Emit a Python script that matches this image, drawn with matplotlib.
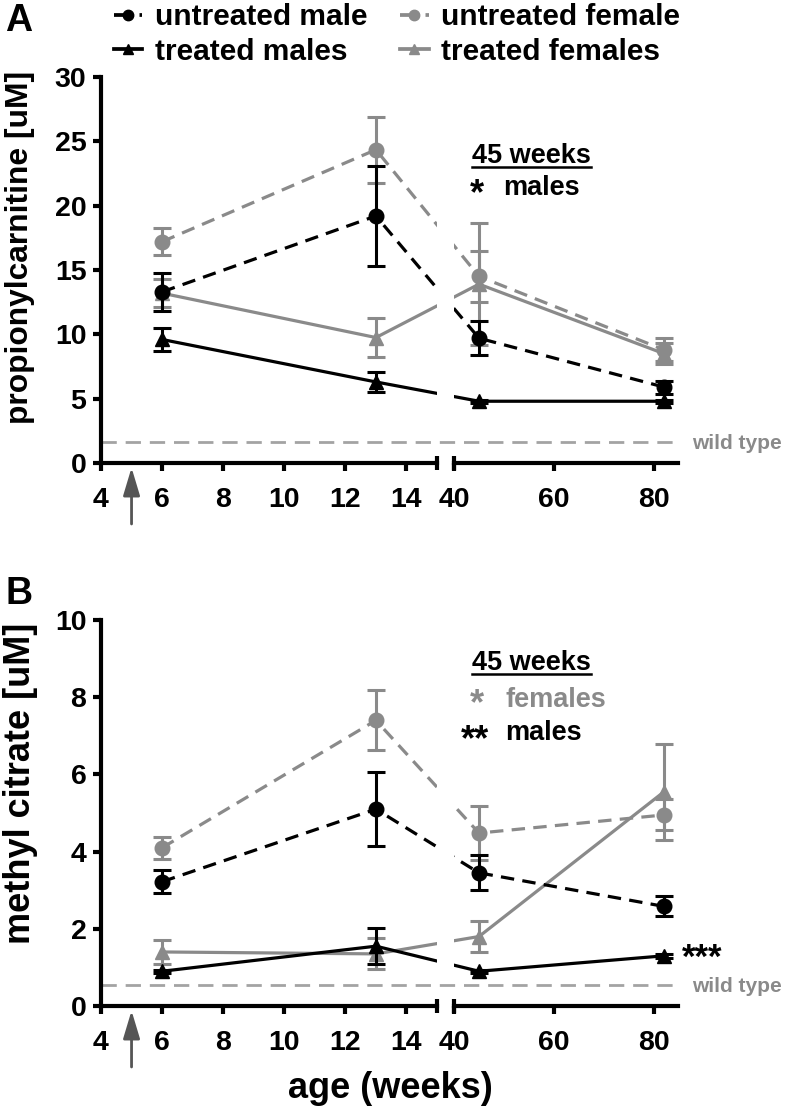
import matplotlib
matplotlib.use('Agg')
import matplotlib.pyplot as plt
from matplotlib.lines import Line2D

plt.rcParams['font.family'] = ['Liberation Sans', 'DejaVu Sans']
plt.rcParams['font.weight'] = 'bold'
plt.rcParams['axes.labelweight'] = 'bold'

# ---------------- data ----------------
weeks = [6, 13, 45, 82]
break_week = 40  # weeks >= this go in the right (broken) segment
treatment_start = 5

# Panel A: propionylcarnitine [uM]
propc_untreated_male = [13.3, 19.2, 9.7, 5.9]
propc_untreated_male_err = [1.5, 3.9, 1.3, 0.5]
propc_untreated_female = [17.2, 24.35, 14.5, 8.8]
propc_untreated_female_err = [1.05, 2.55, 1.95, 0.9]
propc_treated_male = [9.6, 6.3, 4.8, 4.8]
propc_treated_male_err = [0.9, 0.8, 0.12, 0.12]
propc_treated_female = [13.2, 9.75, 13.9, 8.5]
propc_treated_female_err = [1.1, 1.5, 4.75, 0.8]
propc_wild_type = 1.65

# Panel B: methyl citrate [uM]
mc_untreated_male = [3.22, 5.1, 3.45, 2.58]
mc_untreated_male_err = [0.3, 0.95, 0.45, 0.26]
mc_untreated_female = [4.1, 7.4, 4.48, 4.95]
mc_untreated_female_err = [0.28, 0.78, 0.69, 0.4]
mc_treated_male = [0.9, 1.55, 0.9, 1.3]
mc_treated_male_err = [0.04, 0.47, 0.04, 0.05]
mc_treated_female = [1.4, 1.35, 1.8, 5.55]
mc_treated_female_err = [0.32, 0.4, 0.39, 1.25]
mc_wild_type = 0.55

labels = ['untreated male', 'treated males', 'untreated female', 'treated females']
left_xticks = [4, 6, 8, 10, 12, 14]
right_xticks = [40, 60, 80]

# ---------------- style ----------------
W, H = 792, 1110
BLACK = '#000000'
GRAY = '#8a8a8a'
WTGRAY = '#a3a3a3'
DASH = (0, (4.2, 2.6))
LW = 2.3

fig = plt.figure(figsize=(W / 100, H / 100), dpi=100)


def fx(px):
    return px / W


def fy(py):
    return 1 - py / H


def make_panel(top_px, ylim, yticks, ylabel, ylabel_size, ylabel_center,
               letter, letter_y, series, wild_type):
    bottom_px = top_px + 386
    axL = fig.add_axes([fx(101), fy(bottom_px), 336 / W, 386 / H])
    axR = fig.add_axes([fx(454), fy(bottom_px), 224 / W, 386 / H])
    for ax in (axL, axR):
        ax.set_ylim(*ylim)
        ax.patch.set_visible(False)
        for s in ('top', 'right'):
            ax.spines[s].set_visible(False)
        ax.spines['bottom'].set_linewidth(3)
        ax.spines['left'].set_linewidth(3)
        ax.tick_params(axis='both', width=3, length=5.5, direction='out',
                       labelsize=20.5, color=BLACK)
        ax.tick_params(axis='x', pad=12)
        ax.tick_params(axis='y', pad=5)
    axR.spines['left'].set_visible(False)
    axR.tick_params(axis='y', left=False, labelleft=False)
    axL.set_xlim(4, 15)
    axR.set_xlim(40, 84.8)
    axL.set_xticks(left_xticks)
    axR.set_xticks(right_xticks)
    axL.set_yticks(yticks)
    for lab in axL.get_xticklabels() + axR.get_xticklabels() + axL.get_yticklabels():
        lab.set_fontweight('bold')

    # break caps on the x axis
    axL.plot([1, 1], [-0.019, 0.019], transform=axL.transAxes, color=BLACK,
             lw=3, clip_on=False, solid_capstyle='butt')
    axR.plot([0, 0], [-0.019, 0.019], transform=axR.transAxes, color=BLACK,
             lw=3, clip_on=False, solid_capstyle='butt')

    # wild type reference line spanning both segments
    x_end_in_L = axL.transData.inverted().transform(
        axR.transData.transform((84.8, wild_type)))[0]
    axL.plot([4, x_end_in_L], [wild_type, wild_type], color=WTGRAY, lw=2,
             linestyle=(0, (5.5, 3.2)), clip_on=False, zorder=1)
    axR.annotate('wild type', xy=(1, wild_type),
                 xycoords=axR.get_yaxis_transform(), xytext=(10, -1),
                 textcoords='offset points', va='center', ha='left',
                 fontsize=15, color=GRAY, fontweight='bold',
                 annotation_clip=False)

    # data series
    owners = [axL if w < break_week else axR for w in weeks]
    handles = []
    for (mean, err, color, marker, ls, label, z) in series:
        for ax in (axL, axR):
            pts = []
            for w, m, own in zip(weeks, mean, owners):
                if own is ax:
                    pts.append((w, m))
                else:
                    pts.append(tuple(ax.transData.inverted().transform(
                        own.transData.transform((w, m)))))
            ax.plot([p[0] for p in pts], [p[1] for p in pts], color=color,
                    lw=LW, linestyle=ls, zorder=z, clip_on=True)
        for ax in (axL, axR):
            idx = [i for i, own in enumerate(owners) if own is ax]
            ax.errorbar([weeks[i] for i in idx], [mean[i] for i in idx],
                        yerr=[err[i] for i in idx], fmt=marker, color=color,
                        ms=10.5, ecolor=color, elinewidth=2.2, capsize=6.5,
                        capthick=2.2, zorder=z + 0.5, clip_on=False)
        handles.append(Line2D([], [], color=color, lw=LW + 0.4, linestyle=ls,
                              marker=marker, ms=10))

    # treatment start arrow
    xt = axL.get_xaxis_transform()
    axL.annotate('', xy=(treatment_start, -0.012), xycoords=xt,
                 xytext=(treatment_start, -0.158), textcoords=xt,
                 arrowprops=dict(arrowstyle='-|>,head_length=1.0,head_width=0.3',
                                 color='#555555', lw=2, mutation_scale=17,
                                 shrinkA=0, shrinkB=0))

    # y label
    axL.set_ylabel(ylabel, fontsize=ylabel_size, fontweight='bold', va='center')
    axL.yaxis.set_label_coords((ylabel_center[0] - 101) / 336,
                               (bottom_px - ylabel_center[1]) / 386)

    fig.text(fx(19), fy(letter_y), letter, fontsize=27, fontweight='bold',
             ha='center', va='center')
    return axL, axR, handles


seriesA = [
    (propc_untreated_male, propc_untreated_male_err, BLACK, 'o', DASH, labels[0], 4),
    (propc_treated_male, propc_treated_male_err, BLACK, '^', '-', labels[1], 4),
    (propc_untreated_female, propc_untreated_female_err, GRAY, 'o', DASH, labels[2], 3),
    (propc_treated_female, propc_treated_female_err, GRAY, '^', '-', labels[3], 3),
]
seriesB = [
    (mc_untreated_male, mc_untreated_male_err, BLACK, 'o', DASH, labels[0], 4),
    (mc_treated_male, mc_treated_male_err, BLACK, '^', '-', labels[1], 4),
    (mc_untreated_female, mc_untreated_female_err, GRAY, 'o', DASH, labels[2], 3),
    (mc_treated_female, mc_treated_female_err, GRAY, '^', '-', labels[3], 3),
]

aL, aR, handles = make_panel(77, (0, 30), [0, 5, 10, 15, 20, 25, 30],
                             'propionylcarnitine [uM]', 22.9, (20, 247),
                             'A', 21, seriesA, propc_wild_type)
bL, bR, _ = make_panel(620, (0, 10), [0, 2, 4, 6, 8, 10],
                       'methyl citrate [uM]', 26, (21, 783),
                       'B', 594, seriesB, mc_wild_type)

# legend
fig.legend(handles, labels, ncol=2, loc='upper left',
           bbox_to_anchor=(fx(114), fy(3)), frameon=False,
           prop={'weight': 'bold', 'size': 21.5},
           handlelength=0.95, handletextpad=0.42, columnspacing=1.1,
           labelspacing=0.22, borderpad=0, borderaxespad=0, markerscale=0.75)

# annotations (text)
NOTE = 19.5


def note(x, y_base, s, color=BLACK, size=NOTE):
    return fig.text(fx(x), fy(y_base), s, fontsize=size, fontweight='bold',
                    color=color, ha='left', va='baseline')


tA = note(472, 163, '45 weeks')
note(470, 204, '*', size=26)
note(503, 195, 'males')
tB = note(472, 670, '45 weeks')
note(470, 714, '*', color=GRAY, size=26)
note(505, 707, 'females', color=GRAY)
note(461, 750, '**', size=26)
note(505, 740, 'males')

fig.canvas.draw()
r = fig.canvas.get_renderer()
for t in (tA, tB):
    bb = t.get_window_extent(r)
    yline = bb.y0 + 2
    fig.add_artist(Line2D([bb.x0 / W, bb.x1 / W], [(yline) / H, (yline) / H],
                          color=BLACK, lw=1.8))

bR.annotate('***', xy=(weeks[3], mc_treated_male[3]), xycoords='data',
            xytext=(13, -9), textcoords='offset points', fontsize=25,
            fontweight='bold', ha='left', va='baseline', annotation_clip=False)

fig.text(fx(390), fy(1088), 'age (weeks)', fontsize=26, fontweight='bold',
         ha='center', va='center')

fig.savefig('out.png', dpi=100)
